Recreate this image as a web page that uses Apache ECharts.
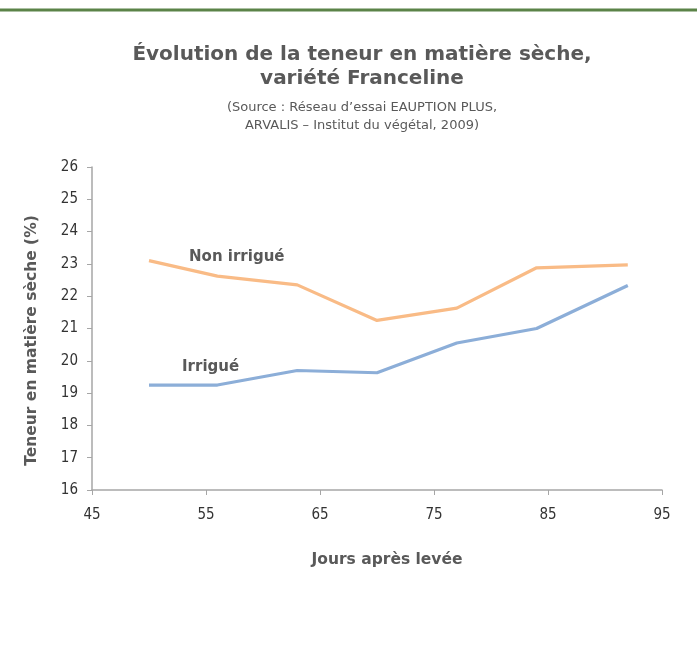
<!DOCTYPE html>
<html>
<head>
<meta charset="utf-8">
<script src="https://cdn.jsdelivr.net/npm/echarts@6/dist/echarts.min.js"></script>
<style>
html, body { margin: 0; padding: 0; background: #fff; }
#chart { width: 697px; height: 648px; }
</style>
</head>
<body>
<div id="chart"></div>
<script>
var days = [50, 56, 63, 70, 77, 84, 92];
var nonIrrigue = [23.1, 22.62, 22.35, 21.25, 21.63, 22.88, 22.97];
var irrigue = [19.25, 19.25, 19.7, 19.63, 20.55, 21.0, 22.33];
var labelNon = [57.7, 23.2];
var labelIrr = [55.4, 19.8];

var font = '"DejaVu Sans", sans-serif';
var tickFont = '"DejaVu Sans Condensed", "DejaVu Sans", sans-serif';
var grey = '#595959';

function pairs(ys) {
    var out = [];
    for (var i = 0; i < days.length; i++) out.push([days[i], ys[i]]);
    return out;
}

var myChart = echarts.init(document.getElementById('chart'));

var option = {
    animation: false,
    backgroundColor: '#fff',
    title: [{
        text: 'Évolution de la teneur en matière sèche,\nvariété Franceline',
        left: 357, top: 38, textAlign: 'center',
        textStyle: { fontFamily: font, fontSize: 20, fontWeight: 'bold', color: grey, lineHeight: 24 }
    }, {
        text: '(Source : Réseau d\u2019essai EAUPTION PLUS,\nARVALIS \u2013 Institut du végétal, 2009)',
        left: 357, top: 94, textAlign: 'center',
        textStyle: { fontFamily: font, fontSize: 13, fontWeight: 'normal', color: grey, lineHeight: 18 }
    }],
    graphic: [{
        type: 'line',
        shape: { x1: 0, y1: 10, x2: 697, y2: 10 },
        style: { stroke: '#5b8348', lineWidth: 3 }
    }],
    grid: { left: 92, right: 35, top: 167, bottom: 158 },
    xAxis: {
        type: 'value', min: 45, max: 95, interval: 10,
        name: 'Jours après levée', nameLocation: 'middle', nameGap: 62,
        nameTextStyle: { fontFamily: font, fontSize: 15.5, fontWeight: 'bold', color: grey, padding: [0, 0, 0, 20] },
        axisLine: { lineStyle: { color: '#a6a6a6', width: 1.5 } },
        axisTick: { show: true, length: 5, lineStyle: { color: '#a6a6a6' } },
        axisLabel: { fontFamily: tickFont, fontSize: 15, color: '#333', margin: 18 },
        splitLine: { show: false }
    },
    yAxis: {
        type: 'value', min: 16, max: 26, interval: 1,
        name: 'Teneur en matière sèche (%)', nameLocation: 'middle', nameGap: 52, nameRotate: 90,
        nameTextStyle: { fontFamily: font, fontSize: 15.5, fontWeight: 'bold', color: grey, padding: [0, 24, 0, 0] },
        axisLine: { show: true, lineStyle: { color: '#a6a6a6', width: 1.5 } },
        axisTick: { show: true, length: 5, lineStyle: { color: '#a6a6a6' } },
        axisLabel: { fontFamily: tickFont, fontSize: 15, color: '#333', margin: 14 },
        splitLine: { show: false }
    },
    series: [{
        name: 'Non irrigué',
        type: 'line',
        symbol: 'none',
        lineStyle: { color: '#f9bb86', width: 3.2 },
        data: pairs(nonIrrigue),
        markPoint: {
            symbol: 'circle', symbolSize: 1,
            itemStyle: { color: 'transparent' },
            label: { show: true, position: 'inside', formatter: 'Non irrigué', fontFamily: font, fontSize: 15, fontWeight: 'bold', color: grey },
            data: [{ coord: labelNon }]
        }
    }, {
        name: 'Irrigué',
        type: 'line',
        symbol: 'none',
        lineStyle: { color: '#8caed8', width: 3.2 },
        data: pairs(irrigue),
        markPoint: {
            symbol: 'circle', symbolSize: 1,
            itemStyle: { color: 'transparent' },
            label: { show: true, position: 'inside', formatter: 'Irrigué', fontFamily: font, fontSize: 15, fontWeight: 'bold', color: grey },
            data: [{ coord: labelIrr }]
        }
    }]
};

myChart.setOption(option);
</script>
</body>
</html>
